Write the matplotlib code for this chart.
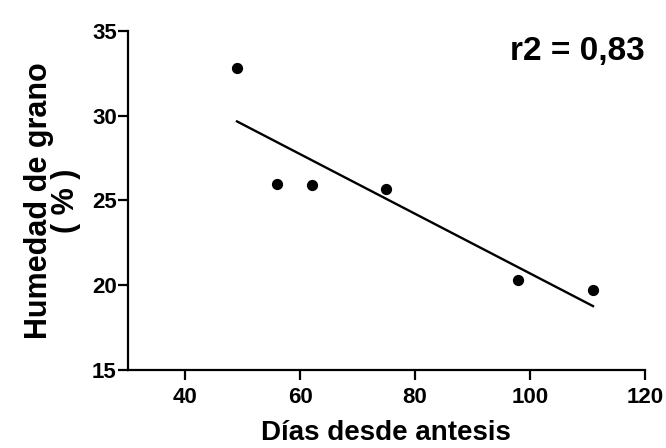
import matplotlib.pyplot as plt
import numpy as np

# Humedad de grano vs días desde antesis
dias = [49, 56, 62, 75, 98, 111]
humedad = [32.8, 26.0, 25.9, 25.7, 20.3, 19.7]
r2_label = 'r2 = 0,83'

x_ticks = [40, 60, 80, 100, 120]
y_ticks = [15, 20, 25, 30, 35]

plt.rcParams['font.family'] = ['Liberation Sans', 'DejaVu Sans']
plt.rcParams['font.weight'] = 'bold'

fig = plt.figure(figsize=(6.66, 4.48), dpi=100)
ax = fig.add_axes([0.192, 0.174, 0.776, 0.757])

# recta de regresión entre el primer y el último punto
slope, intercept = np.polyfit(dias, humedad, 1)
x_fit = np.array([min(dias), max(dias)])
ax.plot(x_fit, slope * x_fit + intercept, color='black', lw=1.7)

ax.scatter(dias, humedad, s=50, color='black', zorder=3)

ax.set_xlim(30, 120)
ax.set_ylim(15, 35)
ax.set_xticks(x_ticks)
ax.set_yticks(y_ticks)

for side in ['top', 'right']:
    ax.spines[side].set_visible(False)
for side in ['left', 'bottom']:
    ax.spines[side].set_linewidth(1.6)

ax.tick_params(axis='both', direction='out', length=7, width=1.6, labelsize=16)
ax.tick_params(axis='x', pad=5)
ax.tick_params(axis='y', pad=1)
for lbl in ax.get_xticklabels() + ax.get_yticklabels():
    lbl.set_fontweight('bold')

ax.set_xlabel('Días desde antesis', fontsize=20, fontweight='bold', labelpad=9)
ax.set_ylabel('Humedad de grano\n( % )', fontsize=22, fontweight='bold',
              linespacing=0.85, labelpad=8)

ax.text(1.0, 0.94, r2_label, transform=ax.transAxes, ha='right', va='center',
        fontsize=24, fontweight='bold')

fig.savefig('out.png', dpi=100)
